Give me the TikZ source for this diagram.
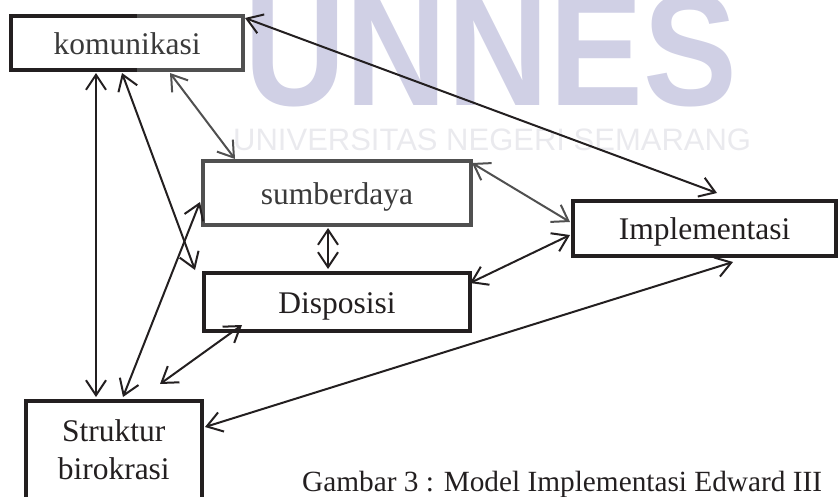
\documentclass[tikz,border=0pt]{standalone}
\usepackage{fontspec}
\setmainfont{Liberation Serif}
\newfontfamily\wmfont{Liberation Sans}
\usetikzlibrary{arrows.meta}
\definecolor{ink}{HTML}{231F20}
\definecolor{inkgray}{HTML}{505050}
\definecolor{txtgray}{HTML}{3A3A3A}
\definecolor{wmblue}{RGB}{208,208,229}
\definecolor{wmgray}{RGB}{234,234,238}
\begin{document}
\begin{tikzpicture}[x=1pt,y=-1pt,
  box/.style={draw=ink, fill=white, line width=4pt, rectangle, inner sep=0pt,
    text=ink, font=\fontsize{31.5}{38}\selectfont},
  oneline/.style={text height=22pt, text depth=0pt},
  graybox/.style={draw=inkgray, text=txtgray},
  arr/.style={<->, >={Straight Barb[length=15pt,width=20pt]}, line width=2pt, draw=ink},
  grayarr/.style={arr, draw=inkgray},
  wmbig/.style={inner sep=0pt, anchor=base west, text=wmblue, xscale=0.88, transform shape,
    font=\wmfont\bfseries\fontsize{160}{160}\selectfont},
  wmsmall/.style={inner sep=0pt, anchor=base west, text=wmgray,
    font=\wmfont\fontsize{31}{31}\selectfont},
  caption/.style={inner sep=0pt, anchor=base west, text=ink,
    font=\fontsize{29.3}{35}\selectfont}
]
\useasboundingbox (0,0) rectangle (840,496);
\clip (0,0) rectangle (840,496);

% watermark
\node[wmbig] (wmA) at (244,105) {UNNES};
\node[wmsmall] (wmB) at (233,150) {UNIVERSITAS NEGERI SEMARANG};

% boxes
\node[box, graybox, oneline, minimum width=232pt, minimum height=54pt] (kom) at (127,43) {komunikasi};
\draw[ink, line width=4pt] ([xshift=128pt,yshift=-2pt]kom.north west) -- ([xshift=2pt,yshift=-2pt]kom.north west)
  -- ([xshift=2pt,yshift=2pt]kom.south west) -- ([xshift=128pt,yshift=2pt]kom.south west);
\node[box, graybox, oneline, minimum width=268pt, minimum height=64pt] (sumb) at (337,193) {sumberdaya};
\node[box, oneline, minimum width=266pt, minimum height=58pt] (disp) at (337,302) {Disposisi};
\node[box, oneline, minimum width=263pt, minimum height=55pt] (impl) at (704.5,228.5) {Implementasi};
\node[box, align=center, minimum width=176.5pt, minimum height=99pt, anchor=north] (str) at (113.75,398.5) {Struktur\\birokrasi};

% connectors
\draw[arr] ([xshift=87pt,yshift=-1pt]kom.south west) -- ([xshift=72.5pt,yshift=1.5pt]str.north west);
\draw[arr] ([xshift=113pt,yshift=-1pt]kom.south west) -- ([xshift=-7pt,yshift=1pt]disp.north west);
\draw[grayarr] ([xshift=161pt,yshift=-1pt]kom.south west) -- ([xshift=34pt]sumb.north west);
\draw[arr] ([xshift=99.5pt,yshift=1.5pt]str.north west) -- ([xshift=-1pt,yshift=-9pt]sumb.west);
\draw[arr] ([xshift=136.5pt,yshift=14.5pt]str.north west) -- ([xshift=40pt,yshift=8pt]disp.south west);
\draw[arr] ([xshift=-2pt,yshift=19pt]disp.east) -- ([xshift=-1pt,yshift=-6.5pt]impl.west);
\draw[grayarr] ([xshift=-1pt,yshift=-4pt]sumb.north east) -- ([xshift=-1pt,yshift=6.5pt]impl.west);
\draw[arr] ([yshift=-4pt]kom.north east) -- ([xshift=146pt,yshift=6pt]impl.north west);
\draw[arr] ([xshift=1pt,yshift=-28.5pt]str.north east) -- ([xshift=162pt,yshift=-4pt]impl.south west);
\draw[arr] ([xshift=-9pt,yshift=-1pt]sumb.south) -- ([xshift=-9pt,yshift=2pt]disp.north);

% caption
\node[caption] (cap) at (302,491) {Gambar 3 : Model Implementasi Edward III};
\end{tikzpicture}
\end{document}
